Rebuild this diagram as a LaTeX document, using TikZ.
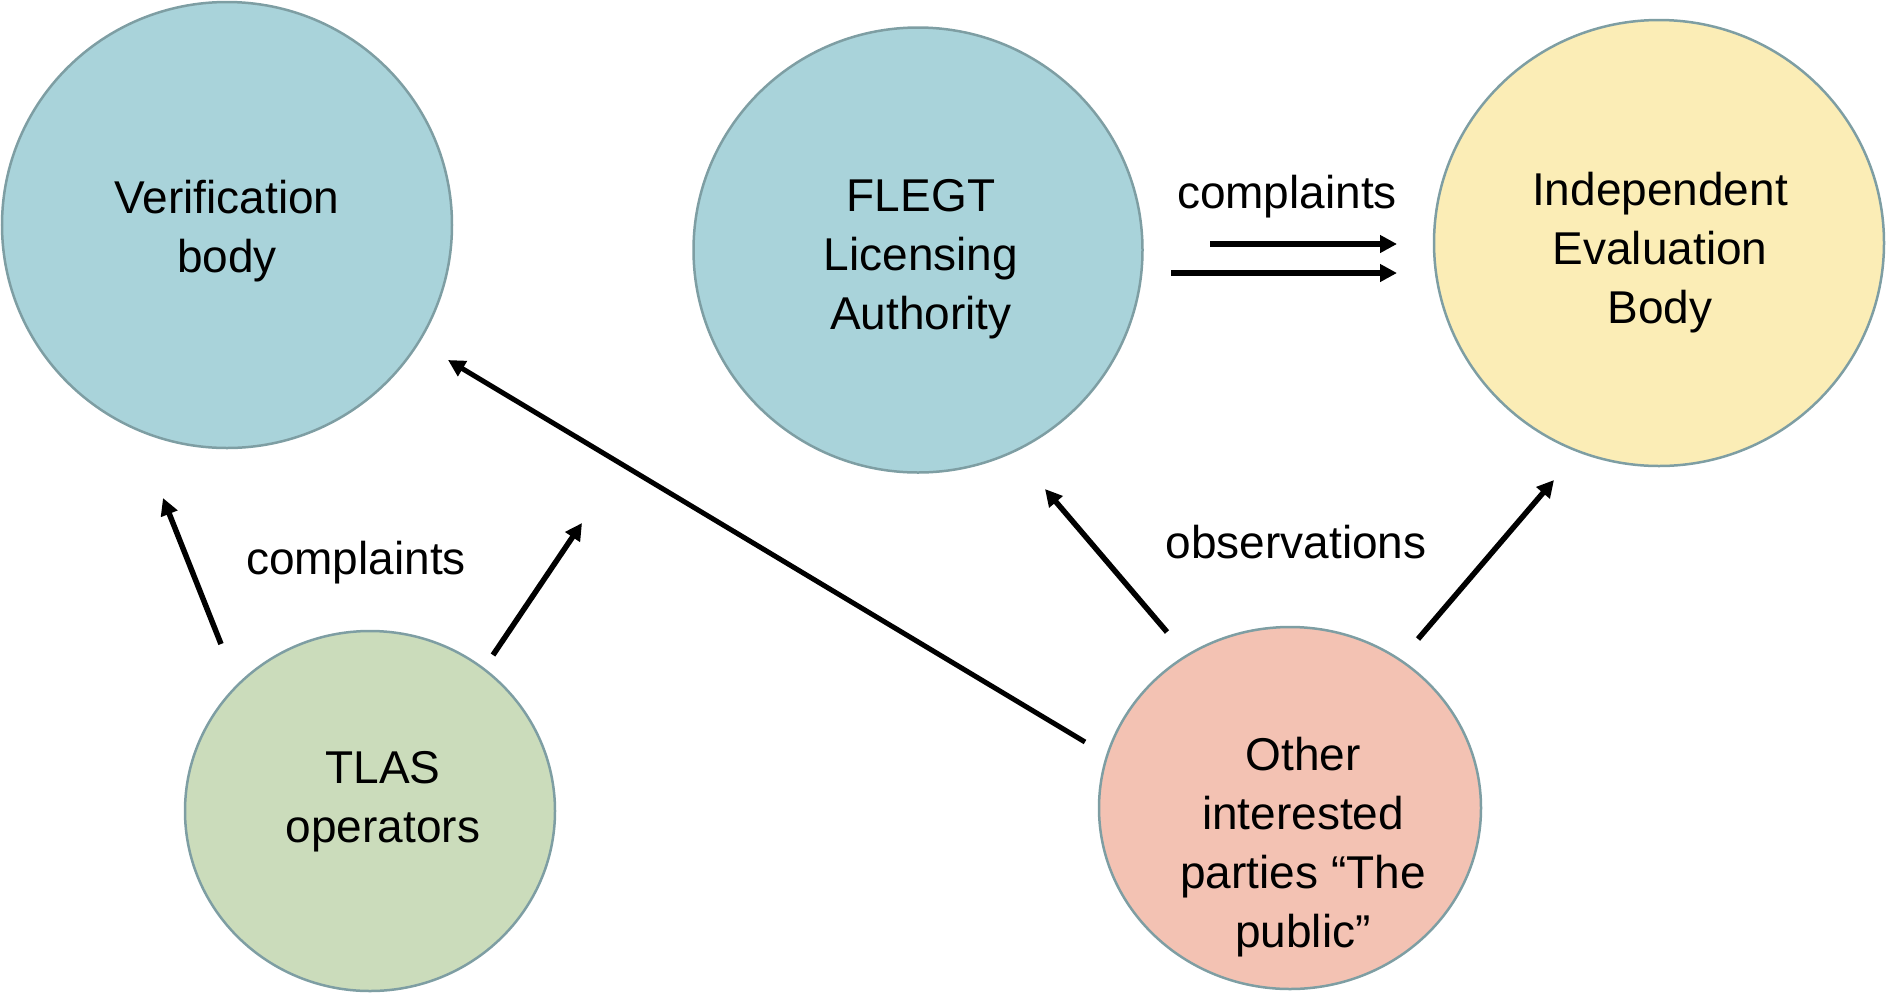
\documentclass[tikz,border=0pt]{standalone}
\usepackage{fontspec}
\setmainfont{Liberation Sans}
\usetikzlibrary{arrows.meta,shapes.geometric}
\definecolor{cblue}{HTML}{A9D3DA}
\definecolor{cyellow}{HTML}{FBEDB6}
\definecolor{cgreen}{HTML}{CBDCBB}
\definecolor{cpink}{HTML}{F3C2B3}
\definecolor{cedge}{HTML}{7E9EA3}
\tikzset{
  blob/.style={ellipse, draw=cedge, line width=2.5pt, inner sep=0pt},
  txt/.style={align=center, inner sep=0pt, font=\fontsize{46}{59}\selectfont},
  arr/.style={line width=5.5pt, -{Triangle[length=17pt,width=17pt]}},
}
\begin{document}
\begin{tikzpicture}[x=1pt,y=-1pt]
\useasboundingbox (0,0) rectangle (1887,994);
% circles
\node[blob, fill=cblue, minimum width=450pt, minimum height=446pt] (vb) at (227,225) {};
\node[blob, fill=cblue, minimum width=449pt, minimum height=445pt] (fla) at (918,250) {};
\node[blob, fill=cyellow, minimum width=450pt, minimum height=446pt] (ieb) at (1659,243) {};
\node[blob, fill=cgreen, minimum width=370pt, minimum height=360pt] (tlas) at (370,811) {};
\node[blob, fill=cpink, minimum width=382pt, minimum height=362pt] (oip) at (1290,808) {};
% texts
\node[txt] (vbt) at (227,231) {Verification\\body};
\node[txt] (flat) at (921,259) {FLEGT\\Licensing\\Authority};
\node[txt] (iebt) at (1660,253) {Independent\\Evaluation\\Body};
\node[txt] (tlast) at (383,802) {TLAS\\operators};
\node[txt] (oipt) at (1303,847) {Other\\interested\\parties “The\\public”};
% labels
\node[txt] (lc1) at (1287,197) {complaints};
\node[txt] (lc2) at (356,563) {complaints};
\node[txt] (lob) at (1296,542) {observations};
% arrow end points
\coordinate (a1s) at (1210,244); \coordinate (a1e) at (1397,244);
\coordinate (a2s) at (1171,273); \coordinate (a2e) at (1397,273);
\coordinate (bls) at (221,644);  \coordinate (ble) at (163,498);
\coordinate (brs) at (493,655);  \coordinate (bre) at (582,523);
\coordinate (cls) at (1167,632); \coordinate (cle) at (1045,489);
\coordinate (crs) at (1418,639); \coordinate (cre) at (1554,480);
\coordinate (lls) at (1085,742); \coordinate (lle) at (448,360);
% arrows
\draw[arr] (a1s) -- (a1e);
\draw[arr] (a2s) -- (a2e);
\draw[arr] (bls) -- (ble);
\draw[arr] (brs) -- (bre);
\draw[arr] (cls) -- (cle);
\draw[arr] (crs) -- (cre);
\draw[arr, line width=5pt] (lls) -- (lle);
\end{tikzpicture}
\end{document}
